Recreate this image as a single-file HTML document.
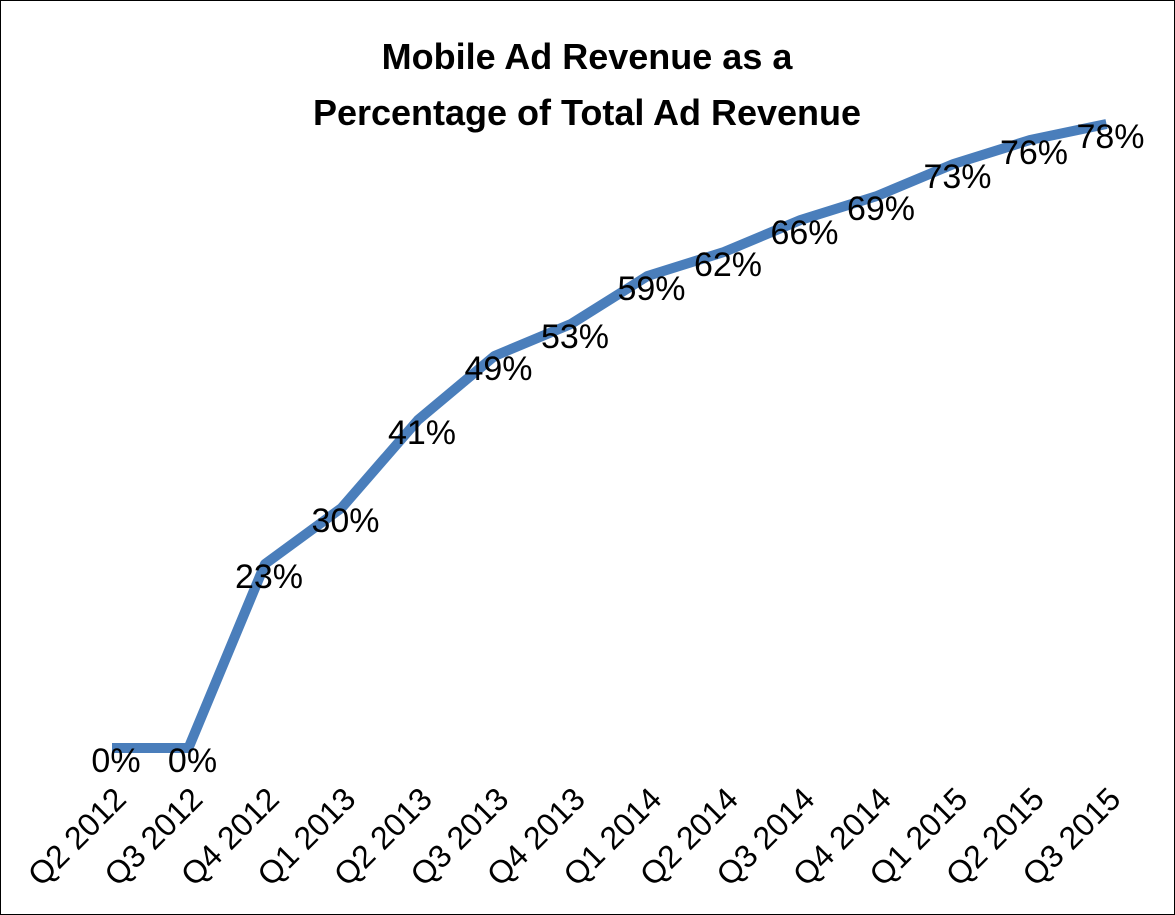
<!DOCTYPE html>
<html><head><meta charset="utf-8"><style>
html,body{margin:0;padding:0;background:#fff;}
svg{display:block;font-family:"Liberation Sans",sans-serif;}
</style></head><body>
<svg id="chart" width="1175" height="915">
<rect x="0.5" y="0.5" width="1174" height="914" fill="#fff" stroke="#000" stroke-width="1"/>
<text x="587" y="69" text-anchor="middle" font-size="36" font-weight="bold">Mobile Ad Revenue as a</text>
<text x="587" y="125" text-anchor="middle" font-size="36" font-weight="bold">Percentage of Total Ad Revenue</text>
<g id="plot"></g>
</svg>
<script>
const categories=["Q2 2012","Q3 2012","Q4 2012","Q1 2013","Q2 2013","Q3 2013","Q4 2013","Q1 2014","Q2 2014","Q3 2014","Q4 2014","Q1 2015","Q2 2015","Q3 2015"];
const values=[0,0,23,30,41,49,53,59,62,66,69,73,76,78];
const labels=["0%","0%","23%","30%","41%","49%","53%","59%","62%","66%","69%","73%","76%","78%"];
const NS="http://www.w3.org/2000/svg";
const g=document.getElementById('plot');
function xs(i){return 112+i*76.5;}
function ys(v){return 748-v*8;}
let d="";
values.forEach((v,i)=>{d+=(i?"L":"M")+xs(i)+","+ys(v);});
const p=document.createElementNS(NS,'path');
p.setAttribute('d',d);p.setAttribute('fill','none');p.setAttribute('stroke','#4a7ebb');
p.setAttribute('stroke-width','10');p.setAttribute('stroke-linejoin','round');


g.appendChild(p);
values.forEach((v,i)=>{
const t=document.createElementNS(NS,'text');
t.setAttribute('x',xs(i)+4);t.setAttribute('y',ys(v)+24);
t.setAttribute('text-anchor','middle');t.setAttribute('font-size','34');
t.textContent=labels[i];


g.appendChild(t);
});
categories.forEach((c,i)=>{
const t=document.createElementNS(NS,'text');
const x=xs(i)+16,y=801;
t.setAttribute('x',x);t.setAttribute('y',y);
t.setAttribute('text-anchor','end');t.setAttribute('font-size','32');
t.setAttribute('transform','rotate(-45 '+x+' '+y+')');
t.textContent=c;


g.appendChild(t);
});
</script>
</body></html>
